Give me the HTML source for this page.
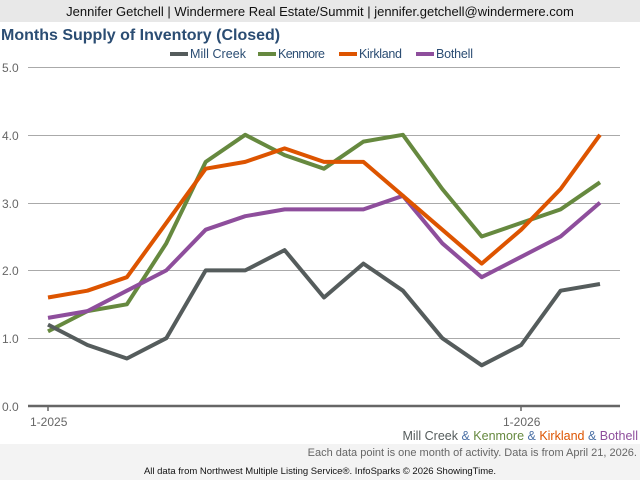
<!DOCTYPE html>
<html><head><meta charset="utf-8"><style>
body{margin:0;width:640px;height:480px;overflow:hidden;background:#fff;font-family:"Liberation Sans",sans-serif}
</style></head><body>
<svg id="s" width="640" height="480" xmlns="http://www.w3.org/2000/svg" font-family="Liberation Sans, sans-serif">
<rect x="0" y="0" width="640" height="22" fill="#e8e8e8"/>
<rect x="0" y="444" width="640" height="36" fill="#f3f3f3"/>
<text x="320" y="16" font-size="13" text-anchor="middle" fill="#111">Jennifer Getchell | Windermere Real Estate/Summit | jennifer.getchell@windermere.com</text>
<text x="1" y="40" font-size="16" font-weight="bold" fill="#2b4d73">Months Supply of Inventory (Closed)</text>
<g font-size="12.5" fill="#2b4d73">
<rect x="170" y="52" width="18" height="4" fill="#555c5c"/><text x="190" y="58" textLength="56">Mill Creek</text>
<rect x="258" y="52" width="18" height="4" fill="#66893f"/><text x="278" y="58" textLength="47">Kenmore</text>
<rect x="339" y="52" width="18" height="4" fill="#dd5400"/><text x="359" y="58" textLength="43">Kirkland</text>
<rect x="416" y="52" width="18" height="4" fill="#8e4e9c"/><text x="436" y="58" textLength="37">Bothell</text>
</g>
<g stroke="#aaa" stroke-width="1">
<line x1="28" x2="620" y1="67.5" y2="67.5"/><line x1="28" x2="620" y1="135.5" y2="135.5"/>
<line x1="28" x2="620" y1="203.5" y2="203.5"/><line x1="28" x2="620" y1="270.5" y2="270.5"/>
<line x1="28" x2="620" y1="338.5" y2="338.5"/>
</g>
<line x1="28" x2="620" y1="406" y2="406" stroke="#666" stroke-width="2.5"/>
<line x1="48" x2="48" y1="406" y2="411" stroke="#666" stroke-width="1.5"/>
<line x1="521" x2="521" y1="406" y2="411" stroke="#666" stroke-width="1.5"/>
<g font-size="12" fill="#666">
<text x="2" y="72">5.0</text><text x="2" y="140">4.0</text><text x="2" y="208">3.0</text>
<text x="2" y="275">2.0</text><text x="2" y="343">1.0</text><text x="2" y="411">0.0</text>
<text x="30" y="426">1-2025</text><text x="503" y="426">1-2026</text>
</g>
<text x="638" y="440" font-size="12.5" text-anchor="end"><tspan fill="#555c5c">Mill Creek </tspan><tspan fill="#4a6fa5">&amp; </tspan><tspan fill="#66893f">Kenmore </tspan><tspan fill="#4a6fa5">&amp; </tspan><tspan fill="#dd5400">Kirkland </tspan><tspan fill="#4a6fa5">&amp; </tspan><tspan fill="#8e4e9c">Bothell</tspan></text>
<text x="637" y="456" font-size="11" text-anchor="end" fill="#666">Each data point is one month of activity. Data is from April 21, 2026.</text>
<text x="320" y="474" font-size="9.5" text-anchor="middle" fill="#111">All data from Northwest Multiple Listing Service®. InfoSparks © 2026 ShowingTime.</text>
<g id="lines" fill="none" stroke-width="4" stroke-linejoin="round"></g>
</svg>
<script>
var d=[["#66893f",[1.1,1.4,1.5,2.4,3.6,4.0,3.7,3.5,3.9,4.0,3.2,2.5,2.7,2.9,3.3]],
["#555c5c",[1.2,0.9,0.7,1.0,2.0,2.0,2.3,1.6,2.1,1.7,1.0,0.6,0.9,1.7,1.8]],
["#8e4e9c",[1.3,1.4,1.7,2.0,2.6,2.8,2.9,2.9,2.9,3.1,2.4,1.9,2.2,2.5,3.0]],
["#dd5400",[1.6,1.7,1.9,2.7,3.5,3.6,3.8,3.6,3.6,3.1,2.6,2.1,2.6,3.2,4.0]]];
var g=document.getElementById("lines");
d.forEach(function(s){var p=s[1].map(function(v,i){return (48+i*39.43).toFixed(1)+","+(406-67.8*v).toFixed(1)}).join(" ");
var e=document.createElementNS("http://www.w3.org/2000/svg","polyline");e.setAttribute("points",p);e.setAttribute("stroke",s[0]);g.appendChild(e);});
</script>
</body></html>
